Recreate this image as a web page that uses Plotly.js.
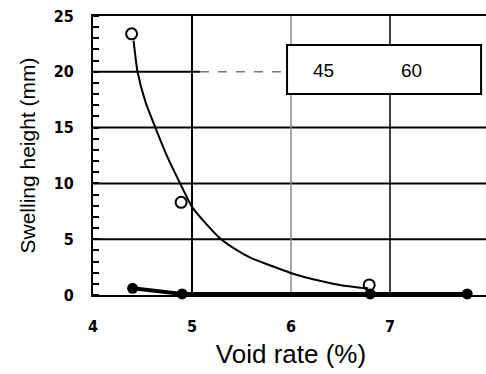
<!DOCTYPE html>
<html>
<head>
<meta charset="utf-8">
<script src="https://cdn.plot.ly/plotly-3.0.1.min.js"></script>
<style>
html,body{margin:0;padding:0;overflow:hidden;background:#fff;}
#chart{width:492px;height:374px;}
</style>
</head>
<body>
<div id="chart"></div>
<script>
// Data
const openX = [4.39, 4.89, 6.79];
const openY = [23.4, 8.3, 0.9];
const filledX = [4.4, 4.9, 6.8, 7.78];
const filledY = [0.6, 0.1, 0.1, 0.1];
const fitX = [4.41, 4.45, 4.53, 4.63, 4.75, 4.88, 5.0, 5.15, 5.28, 5.42, 5.6, 5.82, 5.99, 6.16, 6.33, 6.49, 6.66, 6.78];
const fitY = [22.8, 20.0, 17.3, 15.0, 12.4, 10.0, 7.9, 6.3, 5.1, 4.2, 3.3, 2.55, 2.0, 1.55, 1.2, 0.9, 0.7, 0.6];
const legendLabels = ['45', '60'];
const xTickVals = [4, 5, 6, 7, 8];
const yRange = [0, 25];
const yMajorStep = 5;
const yMinorStep = 1;

const shapes = [];
// horizontal grid
[5, 10, 15].forEach(v => shapes.push({type:'line', xref:'x', yref:'y', x0:4, x1:8, y0:v, y1:v, line:{color:'#000', width:2}, layer:'below'}));
shapes.push({type:'line', xref:'x', yref:'y', x0:4, x1:5.08, y0:20, y1:20, line:{color:'#000', width:2}, layer:'below'});
shapes.push({type:'line', xref:'x', yref:'y', x0:5.08, x1:8, y0:20, y1:20, line:{color:'#777', width:1.5, dash:'dash'}, layer:'below'});
// vertical grid
shapes.push({type:'line', xref:'x', yref:'y', x0:5, x1:5, y0:0, y1:25, line:{color:'#000', width:2}, layer:'below'});
shapes.push({type:'line', xref:'x', yref:'y', x0:6, x1:6, y0:0, y1:25, line:{color:'#888', width:1.5}, layer:'below'});
shapes.push({type:'line', xref:'x', yref:'y', x0:7, x1:7, y0:0, y1:25, line:{color:'#000', width:1.5}, layer:'below'});
// legend box
shapes.push({type:'rect', xref:'x', yref:'y', x0:5.96, x1:7.92, y0:18.0, y1:22.4, fillcolor:'#fff', line:{color:'#000', width:2}, layer:'above'});

const traces = [
  {x: fitX, y: fitY, mode:'lines', line:{color:'#000', width:2, shape:'spline', smoothing:0.6}, showlegend:false, hoverinfo:'skip'},
  {x: openX, y: openY, mode:'markers', marker:{symbol:'circle-open', size:11, color:'#000', line:{width:2}}, showlegend:false, cliponaxis:false},
  {x: filledX, y: filledY, mode:'lines+markers', line:{color:'#000', width:4}, marker:{symbol:'circle', size:11, color:'#000'}, showlegend:false, cliponaxis:false}
];

const tickFont = {family:'DejaVu Sans Condensed, DejaVu Sans', size:16, color:'#000'};
const bold = v => '<b>' + v + '</b>';

const layout = {
  width: 492, height: 374,
  margin: {l:93, r:3, t:16, b:79},
  paper_bgcolor:'#fff', plot_bgcolor:'#fff',
  showlegend:false,
  xaxis: {
    range:[4, 8], tickvals: xTickVals, ticktext: xTickVals.map(bold),
    showgrid:false, zeroline:false, showline:true, linecolor:'#000', linewidth:2, mirror:true,
    ticks:'', tickfont: tickFont, ticklabelstandoff: 16,
    title:{text:'Void rate (%)', font:{family:'Liberation Sans, Arial', size:26, color:'#000'}, standoff:10}
  },
  yaxis: {
    range: yRange, tickmode:'linear', tick0:0, dtick: yMajorStep,
    tickprefix:'<b>', ticksuffix:'</b>',
    showgrid:false, zeroline:false, showline:true, linecolor:'#000', linewidth:2, mirror:true,
    ticks:'outside', ticklen:14, tickwidth:1, tickcolor:'rgba(0,0,0,0)', tickfont: tickFont,
    minor:{dtick: yMinorStep, ticks:'inside', ticklen:6, tickwidth:2, tickcolor:'#000', showgrid:false},
    title:{text:'Swelling height (mm)', font:{family:'Liberation Sans, Arial', size:21, color:'#000'}, standoff:12}
  },
  shapes: shapes,
  annotations: [
    {xref:'x', yref:'y', x:6.33, y:20.1, text:legendLabels[0], showarrow:false, font:{family:'Liberation Sans, Arial', size:19, color:'#000'}},
    {xref:'x', yref:'y', x:7.22, y:20.1, text:legendLabels[1], showarrow:false, font:{family:'Liberation Sans, Arial', size:19, color:'#000'}}
  ]
};

Plotly.newPlot('chart', traces, layout, {staticPlot:true, displayModeBar:false});
</script>
</body>
</html>
